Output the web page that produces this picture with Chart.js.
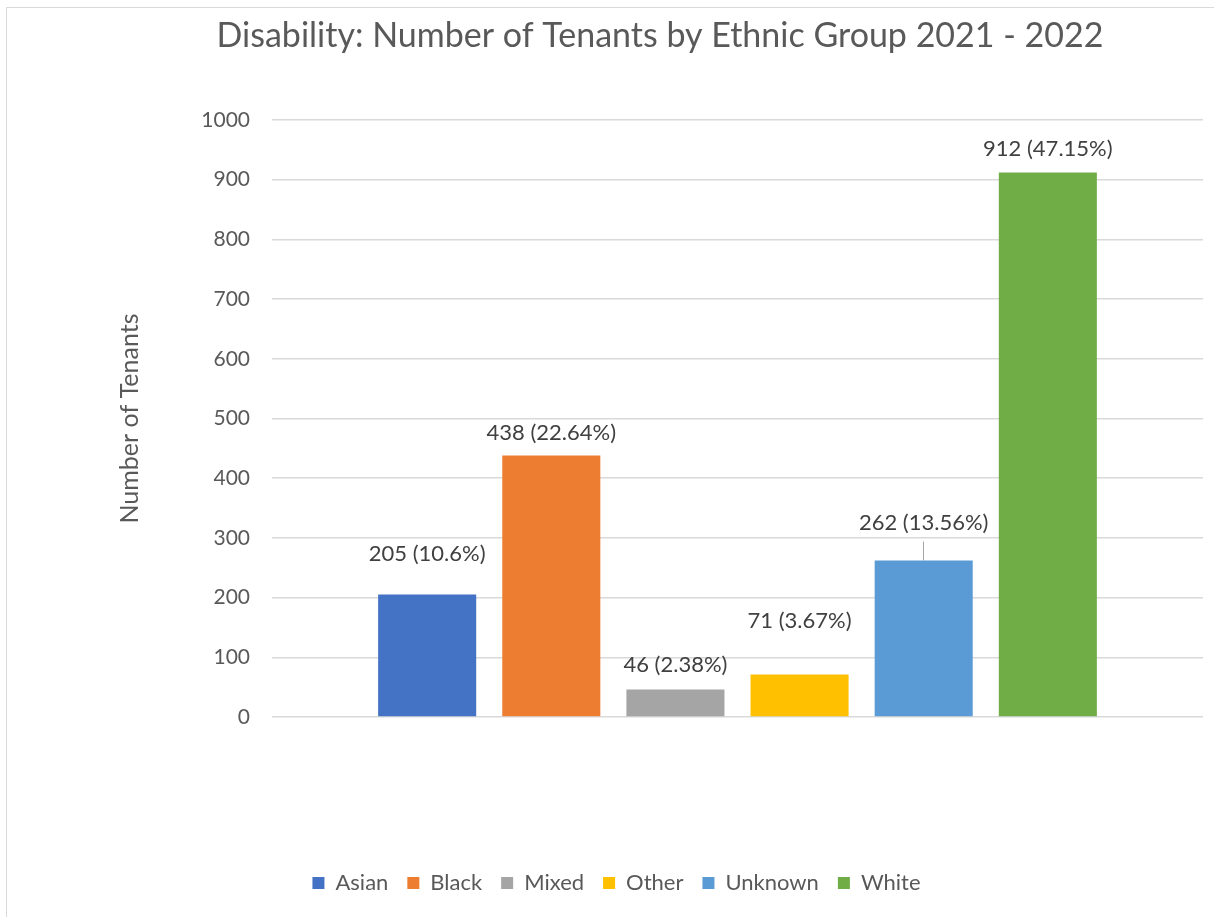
<!DOCTYPE html>
<html>
<head>
<meta charset="utf-8">
<script src="https://cdn.jsdelivr.net/npm/chart.js@4.4.1/dist/chart.umd.min.js"></script>
<style>
  html, body { margin: 0; padding: 0; background: #fff; }
  #wrap { width: 1214px; height: 917px; }
</style>
</head>
<body>
<div id="wrap"><canvas id="myChart" width="1214" height="917"></canvas></div>
<script>
// data
const groups = ['Asian', 'Black', 'Mixed', 'Other', 'Unknown', 'White'];
const tenants = [205, 438, 46, 71, 262, 912];
const shares = ['10.6%', '22.64%', '2.38%', '3.67%', '13.56%', '47.15%'];
const colours = ['#4472C4', '#ED7D31', '#A5A5A5', '#FFC000', '#5B9BD5', '#70AD47'];

const FONT = 'Lato, "Open Sans", sans-serif';
const GREY = '#595959';

// how far above each bar its label sits (Excel moved some of them by hand)
const labelLift = [41, 23, 25, 54, 38, 24];

const ctx = document.getElementById('myChart').getContext('2d');

const frame = {
  id: 'frame',
  beforeDraw(chart) {
    const c = chart.ctx;
    c.save();
    c.fillStyle = '#fff';
    c.fillRect(0, 0, chart.width, chart.height);
    c.strokeStyle = '#d9d9d9';
    c.lineWidth = 1;
    c.strokeRect(6.5, 7.5, 1400, 1100);
    // title
    c.fillStyle = GREY;
    c.font = '34px ' + FONT;
    c.textAlign = 'center';
    c.textBaseline = 'middle';
    c.fillText('Disability: Number of Tenants by Ethnic Group 2021 - 2022', 660, 36);
    c.restore();
  }
};

const barLabels = {
  id: 'barLabels',
  afterDatasetsDraw(chart) {
    const c = chart.ctx;
    c.save();
    c.fillStyle = '#404040';
    c.font = '22px ' + FONT;
    c.textAlign = 'center';
    c.textBaseline = 'middle';
    chart.data.datasets.forEach((ds, i) => {
      const bar = chart.getDatasetMeta(i).data[0];
      const y = bar.y - labelLift[i];
      c.fillText(`${tenants[i]} (${shares[i]})`, bar.x, y);
      if (i === 4) {
        // leader line under the moved label
        c.strokeStyle = '#a6a6a6';
        c.lineWidth = 1;
        c.beginPath();
        c.moveTo(Math.round(bar.x) - 0.5, y + 19);
        c.lineTo(Math.round(bar.x) - 0.5, bar.y);
        c.stroke();
      }
    });
    c.restore();
  }
};

new Chart(ctx, {
  type: 'bar',
  data: {
    labels: [''],
    datasets: groups.map((g, i) => ({
      label: g,
      data: [tenants[i]],
      backgroundColor: colours[i],
      categoryPercentage: 0.8,
      barPercentage: 0.79
    }))
  },
  options: {
    responsive: false,
    animation: false,
    layout: { padding: { left: 30, right: 11, top: 120, bottom: 13 } },
    plugins: {
      title: { display: false },
      tooltip: { enabled: false },
      legend: {
        position: 'bottom',
        labels: {
          boxWidth: 12,
          boxHeight: 12,
          padding: 19,
          color: GREY,
          font: { family: FONT, size: 22 }
        }
      }
    },
    scales: {
      x: {
        grid: { display: false, drawTicks: false },
        border: { display: false },
        ticks: { display: false },
        afterFit: (s) => { s.height = 136; }
      },
      y: {
        min: 0,
        max: 1000,
        ticks: {
          stepSize: 100,
          padding: 22,
          color: GREY,
          font: { family: FONT, size: 21 },
          callback: (v) => String(v)
        },
        grid: { color: '#d9d9d9', lineWidth: 1.5, drawTicks: false },
        border: { display: false },
        title: {
          display: true,
          text: 'Number of Tenants',
          color: GREY,
          font: { family: FONT, size: 25 },
          padding: { top: 85, bottom: 0 }
        },
        afterFit: (s) => { s.width = 242; }
      }
    }
  },
  plugins: [frame, barLabels]
});
</script>
</body>
</html>
